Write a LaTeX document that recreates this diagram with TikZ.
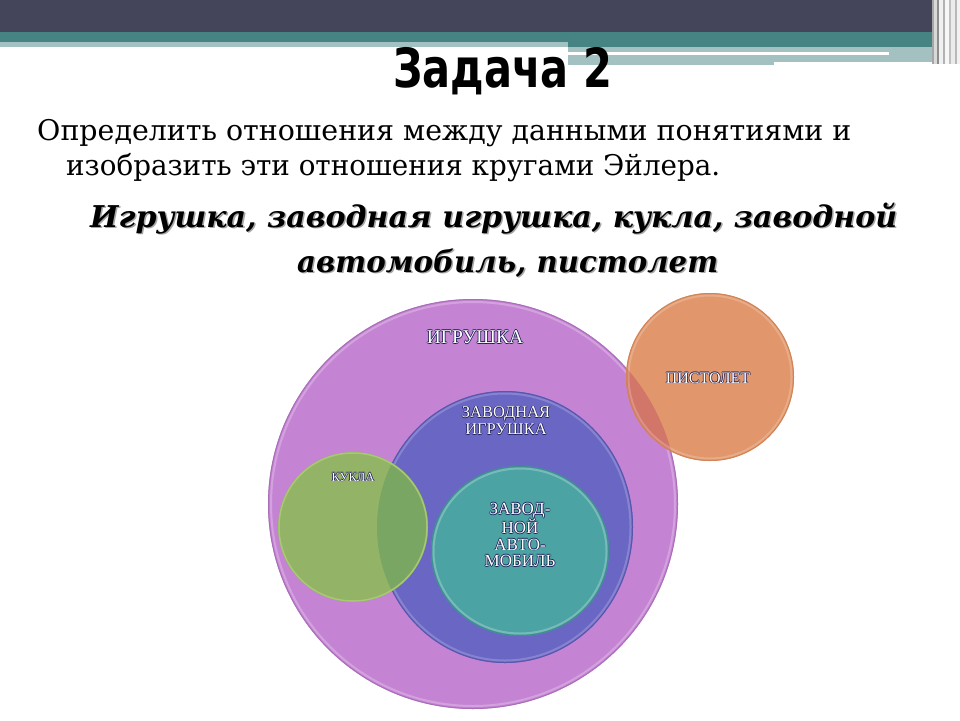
\documentclass[tikz,border=0pt]{standalone}
\usepackage{fontspec}
\usepackage{graphicx}
\newfontfamily\titlefont{DejaVu Sans}
\newfontfamily\bodyfont{DejaVu Serif}
\newfontfamily\labfont{Liberation Serif}
\definecolor{barDark}{HTML}{44445A}
\definecolor{barTeal}{HTML}{468484}
\definecolor{barLight}{HTML}{A3C1C1}
\definecolor{cPurple}{HTML}{C584D3}
\definecolor{cPurpleEdge}{HTML}{A96EB8}
\definecolor{cBlue}{HTML}{6A66C4}
\definecolor{cBlueEdge}{HTML}{5A56AE}
\definecolor{cTeal}{HTML}{4BA3A3}
\definecolor{cTealEdge}{HTML}{3E8E8E}
\definecolor{cGreen}{HTML}{93B367}
\definecolor{cGreenEdge}{HTML}{A9C872}
\definecolor{cGreenBlue}{HTML}{79A662}
\definecolor{cOrange}{HTML}{E1976B}
\definecolor{cOrangeEdge}{HTML}{D08458}
\definecolor{cOrangePurple}{HTML}{D2766A}
\definecolor{labEdge}{HTML}{1C1C55}
\newcommand{\fitw}[2]{\resizebox{#1}{\height}{#2}}
\newcommand{\olabel}[4]{%
  \foreach \dx/\dy [count=\k] in {0.7/0,-0.7/0,0/0.7,0/-0.7} {\node[lab, text=labEdge, font=#3] (#1s\k) at ([shift={(\dx pt,\dy pt)}]#2) {#4};}
  \node[lab, text=white, font=#3] (#1) at (#2) {#4};}
\tikzset{
  lab/.style={align=center, inner sep=0pt, anchor=center},
  bodytext/.style={anchor=base west, inner sep=0pt, font=\bodyfont\fontsize{28.5}{28.5}\selectfont},
  itext/.style={anchor=base west, inner sep=0pt, font=\bodyfont\bfseries\itshape\fontsize{30}{30}\selectfont},
}
\begin{document}
\begin{tikzpicture}[x=1pt,y=-1pt]
\useasboundingbox (0,0) rectangle (960,720);
\fill[white] (0,0) rectangle (960,720);
% top bars
\fill[barDark] (0,0) rectangle (960,32);
\fill[barTeal] (0,32) rectangle (960,42);
\fill[barTeal] (568,42) rectangle (960,47);
\fill[barLight] (0,42) rectangle (568,47);
\fill[barLight] (568,47) rectangle (774,65);
\fill[barLight] (774,47) rectangle (942,62);
\fill[white] (568,52) rectangle (889,55);
% right stripes
\fill[black!35] (932,0) rectangle (934,64);
\fill[black!15] (934,0) rectangle (937,64);
\fill[black!45] (937,0) rectangle (939,64);
\fill[black!6] (939,0) rectangle (943,64);
\fill[black!30] (943,0) rectangle (945,64);
\fill[black!3] (945,0) rectangle (949,64);
\fill[black!25] (949,0) rectangle (951,64);
\fill[black!8] (951,0) rectangle (955,64);
\fill[black!28] (955,0) rectangle (957,64);
\fill[black!5] (957,0) rectangle (960,64);
% title
\node[anchor=base, inner sep=0pt, font=\titlefont\bfseries\fontsize{54}{54}\selectfont] (title) at (502.5,87) {\fitw{219pt}{Задача 2}};
% task text
\node[bodytext] (line1) at (37,140) {\fitw{814pt}{Определить отношения между данными понятиями и}};
\node[bodytext] (line2) at (66,175) {\fitw{654pt}{изобразить эти отношения кругами Эйлера.}};
\node[itext, text=black!35] (it1s) at (91.5,228.5) {\fitw{807pt}{Игрушка, заводная игрушка, кукла, заводной}};
\node[itext] (it1) at (90,227) {\fitw{807pt}{Игрушка, заводная игрушка, кукла, заводной}};
\node[itext, text=black!35] (it2s) at (298.5,273.5) {\fitw{421pt}{автомобиль, пистолет}};
\node[itext] (it2) at (297,272) {\fitw{421pt}{автомобиль, пистолет}};
% circle centres
\coordinate (cIgr) at (473,504);
\coordinate (cZav) at (505,527);
\coordinate (cAvt) at (520,551);
\coordinate (cKuk) at (353,527);
\coordinate (cPis) at (710,377);
% toy
\fill[cPurple] (cIgr) circle[radius=205pt];
\draw[cPurpleEdge, line width=1pt] (cIgr) circle[radius=204.5pt];
\draw[white, opacity=0.25, line width=2pt] (cIgr) circle[radius=202pt];
% wind-up toy
\fill[cBlue] (cZav) ellipse[x radius=128pt, y radius=136pt];
\draw[cBlueEdge, line width=1pt] (cZav) ellipse[x radius=127.5pt, y radius=135.5pt];
\draw[white, opacity=0.2, line width=2pt] (cZav) ellipse[x radius=125.5pt, y radius=133.5pt];
% wind-up car
\fill[cTeal] (cAvt) ellipse[x radius=89pt, y radius=85pt];
\draw[cTealEdge, line width=1pt] (cAvt) ellipse[x radius=88.5pt, y radius=84.5pt];
\draw[white, opacity=0.25, line width=2pt] (cAvt) ellipse[x radius=86.5pt, y radius=82.5pt];
% doll
\fill[cGreen] (cKuk) circle[radius=75pt];
\begin{scope}
  \clip (cZav) ellipse[x radius=128pt, y radius=136pt];
  \fill[cGreenBlue] (cKuk) circle[radius=75pt];
\end{scope}
\draw[cGreenEdge, line width=1.5pt] (cKuk) circle[radius=74pt];
% pistol
\fill[cOrange] (cPis) circle[radius=84pt];
\begin{scope}
  \clip (cIgr) circle[radius=205pt];
  \fill[cOrangePurple] (cPis) circle[radius=84pt];
\end{scope}
\draw[cOrangeEdge, line width=1pt] (cPis) circle[radius=83.5pt];
\draw[white, opacity=0.2, line width=2pt] (cPis) circle[radius=81.5pt];
% labels
\olabel{lIgr}{475,337}{\labfont\fontsize{19.5}{19.5}\selectfont}{ИГРУШКА}
\olabel{lZav}{506,421}{\labfont\fontsize{16.5}{17}\selectfont}{ЗАВОДНАЯ\\ИГРУШКА}
\olabel{lKuk}{353,477}{\labfont\fontsize{12.5}{13}\selectfont}{КУКЛА}
\olabel{lPis}{708,378}{\labfont\fontsize{16}{16}\selectfont}{ПИСТОЛЕТ}
\olabel{lAvt}{520,535}{\labfont\fontsize{17}{16.5}\selectfont}{ЗАВОД-\\НОЙ\\АВТО-\\МОБИЛЬ}
\end{tikzpicture}
\end{document}
